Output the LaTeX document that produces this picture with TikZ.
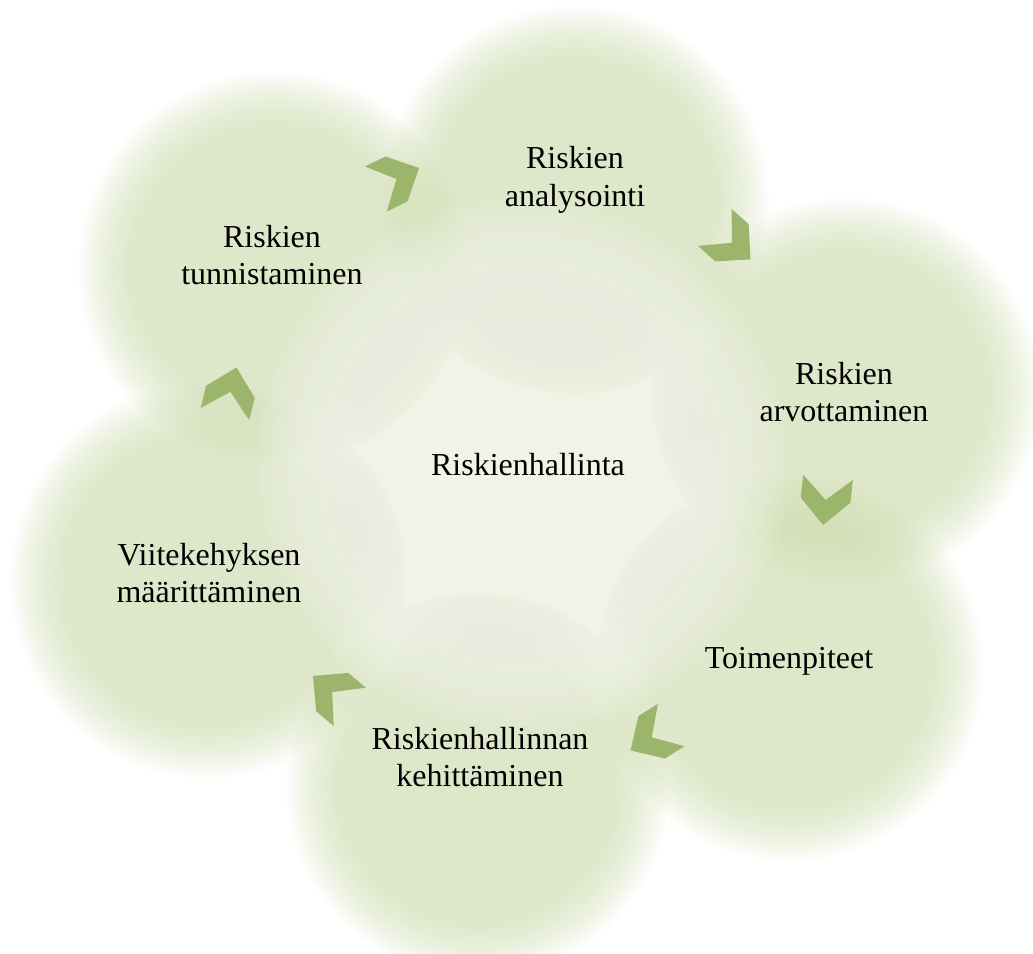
\documentclass[tikz,border=0pt]{standalone}
\usepackage{fontspec}
\setmainfont{Liberation Serif}
\usepackage{tikz}
\usetikzlibrary{positioning}

\definecolor{bubblegreen}{RGB}{205,219,174}
\definecolor{coregreen}{RGB}{239,243,229}
\definecolor{chevgreen}{RGB}{155,181,107}

% soft edged disc: centre, radius, colour, opacity of one layer, half width of the edge
\newcommand{\softdisc}[5]{%
  \foreach \k in {0,...,29}{\fill[#3, fill opacity=#4] (#1) circle ({#2-#5+#5*\k/15});}%
}

\tikzset{
  steptext/.style={align=center, text=black, font=\fontsize{12}{14}\selectfont},
  chevron/.pic={\fill[chevgreen] (0,0) -- (-25,25) -- (-48,25) -- (-25,0) -- (-48,-25) -- (-25,-25) -- cycle;}
}

\begin{document}
\begin{tikzpicture}[x=0.375pt, y=-0.375pt]
    \useasboundingbox (0,0) rectangle (1033,954);
    % bubbles
    \softdisc{575,200}{168}{bubblegreen}{0.034}{28}%analysointi
    \softdisc{274,268}{170}{bubblegreen}{0.034}{28}%tunnistaminen
    \softdisc{846,392}{168}{bubblegreen}{0.034}{28}%arvottaminen
    \softdisc{790,667}{168}{bubblegreen}{0.034}{28}%toimenpiteet
    \softdisc{478,785}{166}{bubblegreen}{0.034}{28}%kehittaminen
    \softdisc{208,580}{172}{bubblegreen}{0.034}{28}%viitekehys
    \softdisc{522,465}{200}{coregreen}{0.1}{72}%light middle
    % texts
    \node (mid) [steptext] at (528,465) {Riskienhallinta};
    \node (anal) [steptext] at (575,180) {Riskien\\analysointi};
    \node (tunn) [steptext] at (272,255) {Riskien\\tunnistaminen};
    \node (arvo) [steptext] at (844,392) {Riskien\\arvottaminen};
    \node (toim) [steptext] at (789,661) {Toimenpiteet};
    \node (kehi) [steptext] at (480,757) {Riskienhallinnan\\kehitt\"aminen};
    \node (viit) [steptext] at (209,573) {Viitekehyksen\\m\"a\"aritt\"aminen};
    % chevrons, clockwise
    \pic[rotate=26] at (419,168) {chevron};%tunn to anal
    \pic[rotate=-42] at (750.5,259.5) {chevron};%anal to arvo
    \pic[rotate=-96] at (823,525) {chevron};%arvo to toim
    \pic[rotate=-148] at (630.5,750.5) {chevron};%toim to kehi
    \pic[rotate=140] at (313,676) {chevron};%kehi to viit
    \pic[rotate=76] at (236.5,367.5) {chevron};%viit to tunn
\end{tikzpicture}
\end{document}
